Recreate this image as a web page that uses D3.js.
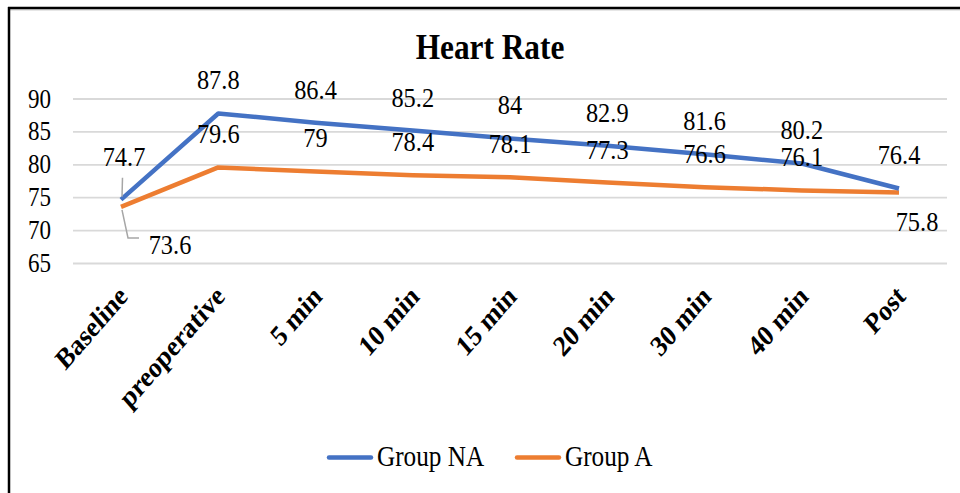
<!DOCTYPE html>
<html>
<head>
<meta charset="utf-8">
<title>Heart Rate</title>
<script src="https://d3js.org/d3.v7.min.js"></script>
<style>
  body { margin: 0; background: #fff; }
  text { font-family: "Liberation Serif", "Times New Roman", serif; fill: #000; }
</style>
</head>
<body>
<div id="chart"></div>
<script>
var categories = ["Baseline", "preoperative", "5 min", "10 min", "15 min", "20 min", "30 min", "40 min", "Post"];
var groupNA = [74.7, 87.8, 86.4, 85.2, 84, 82.9, 81.6, 80.2, 76.4];
var groupA = [73.6, 79.6, 79, 78.4, 78.1, 77.3, 76.6, 76.1, 75.8];
var yTicks = [65, 70, 75, 80, 85, 90];
var seriesNames = ["Group NA", "Group A"];
var colors = ["#4472C4", "#ED7D31"];

var W = 960, H = 493;
var SQ = 0.87; // the picture is squeezed horizontally

var svg = d3.select("#chart").append("svg")
    .attr("width", W).attr("height", H);

// txt helper: put text at x,y, squeezed, optionally rotated
function txt(g, x, y, s, size, opts) {
    opts = opts || {};
    var t = g.append("text")
        .attr("transform", "translate(" + x + "," + y + ") scale(" + SQ + ",1)" + (opts.rot ? " rotate(" + opts.rot + ")" : ""))
        .attr("font-size", size)
        .attr("text-anchor", opts.anchor || "middle")
        .text(s);
    if (opts.bold) t.attr("font-weight", "bold");
    return t;
}

// frame (only top and left edges show)
svg.append("line").attr("x1", 8).attr("x2", W).attr("y1", 8).attr("y2", 8)
    .attr("stroke", "#000").attr("stroke-width", 2.5);
svg.append("line").attr("x1", 9).attr("x2", W).attr("y1", 9.8).attr("y2", 9.8)
    .attr("stroke", "#999").attr("stroke-width", 0.8);
svg.append("line").attr("x1", 9).attr("x2", 9).attr("y1", 7).attr("y2", H)
    .attr("stroke", "#000").attr("stroke-width", 2.5);

var x = d3.scalePoint().domain(categories).range([121, 899]);
var y = d3.scaleLinear().domain([65, 90]).range([263.5, 99]);

// gridlines
svg.append("g").selectAll("line").data(yTicks).enter().append("line")
    .attr("x1", 73).attr("x2", 947)
    .attr("y1", function(d) { return y(d); })
    .attr("y2", function(d) { return y(d); })
    .attr("stroke", "#d9d9d9").attr("stroke-width", 1.8);

// y tick labels
var yl = svg.append("g");
yTicks.forEach(function(d) {
    txt(yl, 51, y(d) + 8.5, d, 26.5, {anchor: "end"});
});

// x labels
var xl = svg.append("g");
categories.forEach(function(c) {
    txt(xl, x(c) + 8, 298, c, 29, {anchor: "end", rot: -45, bold: true});
});

// title
txt(svg, 490, 59, "Heart Rate", 36, {bold: true});

// lines
var line = d3.line()
    .x(function(d, i) { return x(categories[i]); })
    .y(function(d) { return y(d); });

[groupA, groupNA].forEach(function(s, k) {
    svg.append("path").datum(s)
        .attr("d", line)
        .attr("fill", "none")
        .attr("stroke", k === 0 ? colors[1] : colors[0])
        .attr("stroke-width", 4.5)
        .attr("stroke-linejoin", "round");
});

// leader lines at Baseline
var bx = x(categories[0]);
svg.append("path")
    .attr("d", "M" + (bx + 1) + "," + (y(groupNA[0]) - 3) + "L" + (bx + 1.5) + "," + (y(groupNA[0]) - 22))
    .attr("fill", "none").attr("stroke", "#a6a6a6").attr("stroke-width", 1.5);
svg.append("path")
    .attr("d", "M" + (bx + 1) + "," + (y(groupA[0]) + 3) + "L" + (bx + 7) + "," + (y(groupA[0]) + 31) + "L" + (bx + 18) + "," + (y(groupA[0]) + 31))
    .attr("fill", "none").attr("stroke", "#a6a6a6").attr("stroke-width", 1.5);

// data labels
var dl = svg.append("g");
groupNA.forEach(function(v, i) {
    var dx = 0, dy = -24;
    if (i === 0) { dx = 3; dy = -34; }
    txt(dl, x(categories[i]) + dx, y(v) + dy, v, 28);
});
groupA.forEach(function(v, i) {
    var dx = 0, dy = -24;
    if (i === 0) { dx = 49; dy = 47; }
    if (i === categories.length - 1) { dx = 18; dy = 39; }
    txt(dl, x(categories[i]) + dx, y(v) + dy, v, 28);
});

// legend
var lg = svg.append("g");
var legX = [327, 515];
seriesNames.forEach(function(n, i) {
    lg.append("line")
        .attr("x1", legX[i] + 2).attr("x2", legX[i] + 44)
        .attr("y1", 457.5).attr("y2", 457.5)
        .attr("stroke", colors[i]).attr("stroke-width", 4.5)
        .attr("stroke-linecap", "round");
    txt(lg, legX[i] + 50, 466, n, 29, {anchor: "start"});
});
</script>
</body>
</html>
